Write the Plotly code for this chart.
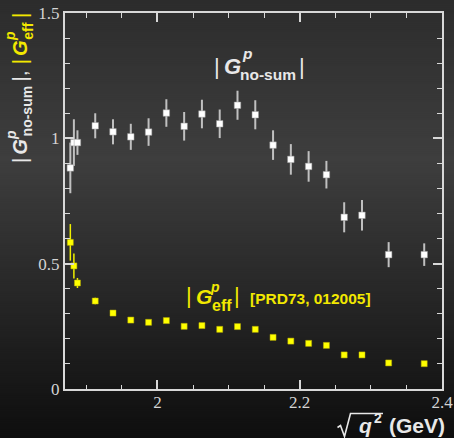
import plotly.graph_objects as go

# ---------------- data ----------------
sqrt_q2 = [1.8775, 1.8825, 1.8875, 1.9125, 1.9375, 1.9625, 1.9875, 2.0125, 2.0375, 2.0625,
           2.0875, 2.1125, 2.1375, 2.1625, 2.1875, 2.2125, 2.2375, 2.2625, 2.2875, 2.325, 2.375]
g_nosum = [0.882, 0.983, 0.983, 1.050, 1.026, 1.006, 1.025, 1.101, 1.048, 1.097,
           1.058, 1.132, 1.094, 0.973, 0.916, 0.888, 0.855, 0.685, 0.693, 0.536, 0.536]
g_nosum_err = [0.101, 0.093, 0.049, 0.050, 0.050, 0.052, 0.055, 0.055, 0.057, 0.057,
               0.057, 0.058, 0.058, 0.059, 0.061, 0.061, 0.055, 0.060, 0.061, 0.050, 0.045]
g_eff = [0.585, 0.491, 0.423, 0.351, 0.303, 0.275, 0.266, 0.273, 0.250, 0.253,
         0.238, 0.249, 0.238, 0.206, 0.191, 0.182, 0.174, 0.136, 0.136, 0.104, 0.101]
g_eff_err = [0.073, 0.050, 0.020, 0.013, 0.010, 0.009, 0.008, 0.008, 0.007, 0.007,
             0.006, 0.006, 0.006, 0.006, 0.005, 0.005, 0.005, 0.005, 0.005, 0.004, 0.004]
x_range = [1.87, 2.4]
y_range = [0, 1.5]

# ---------------- geometry helpers ----------------
W, H = 454, 438
ML, MR, MT, MB = 65, 12, 13, 49
PW, PH = W - ML - MR, H - MT - MB


def px(x):
    return (x - ML) / PW


def py(y):
    return (H - MB - y) / PH


WHITE = '#e8e8e8'
YEL = '#f2e800'
SANS = 'Liberation Sans'


def lab(text, x, y, size, color, angle=0):
    return dict(text=text, x=px(x), y=py(y), xref='paper', yref='paper', showarrow=False,
                xanchor='center', yanchor='middle', textangle=angle, borderpad=0,
                font=dict(size=size, color=color, family=SANS))


# ---------------- background gradient ----------------
stops = [(0, 44), (160, 62), (300, 38), (438, 14)]


def grey(y):
    for (a, va), (b, vb) in zip(stops[:-1], stops[1:]):
        if a <= y <= b:
            return round(va + (vb - va) * (y - a) / (b - a))
    return stops[-1][1]


shapes = []
for i in range(0, H, 2):
    v = grey(i + 1)
    shapes.append(dict(type='rect', xref='paper', yref='paper', x0=px(-2), x1=px(W + 2),
                       y0=py(i + 2.5), y1=py(i - 0.5), fillcolor=f'rgb({v},{v},{v})',
                       line=dict(width=0), layer='below'))

# radical sign for sqrt(q^2)
pts = [(337.5, 427.5), (340.5, 425.5), (344.5, 436.5), (350.5, 413.5), (383, 413.5)]
path = 'M ' + ' L '.join(f'{px(a):.5f},{py(b):.5f}' for a, b in pts)
shapes.append(dict(type='path', xref='paper', yref='paper', path=path,
                   line=dict(color=WHITE, width=1.6)))

# ---------------- figure ----------------
fig = go.Figure()
fig.add_trace(go.Scatter(
    x=sqrt_q2, y=g_nosum, mode='markers',
    marker=dict(symbol='square', size=6.5, color='white', line=dict(width=0.5, color='#999')),
    error_y=dict(type='data', array=g_nosum_err, color='#c0c0c0', thickness=2, width=0),
    showlegend=False))
fig.add_trace(go.Scatter(
    x=sqrt_q2, y=g_eff, mode='markers',
    marker=dict(symbol='square', size=6, color='#ffff00', line=dict(width=0.5, color='#bbb000')),
    error_y=dict(type='data', array=g_eff_err, color='#f0f000', thickness=1.5, width=0),
    showlegend=False))

annotations = [
    # in-plot white label |G^p_no-sum|
    lab('|', 217.3, 66.9, 22, WHITE),
    lab('<b><i>G</i></b>', 232.5, 66.9, 22, WHITE),
    lab('<b><i>p</i></b>', 246.5, 53.6, 15.5, WHITE),
    lab('<b>no-sum</b>', 268, 74.1, 15.5, WHITE),
    lab('|', 302, 66.9, 22, WHITE),
    # in-plot yellow label |G^p_eff| [PRD73, 012005]
    lab('|', 189.3, 295.9, 22, YEL),
    lab('<b><i>G</i></b>', 203.5, 296.2, 21, YEL),
    lab('<b><i>p</i></b>', 214.5, 287, 14, YEL),
    lab('<b>eff</b>', 222.4, 305.2, 16, YEL),
    lab('|', 237.3, 295.9, 22, YEL),
    lab('<b>[PRD73, 012005]</b>', 310.5, 298.3, 15.5, YEL),
    # y-axis title (rotated)
    lab('|', 20.1, 161, 20, WHITE, -90),
    lab('<b><i>G</i></b>', 20.1, 146.7, 20, WHITE, -90),
    lab('<b><i>p</i></b>', 10.2, 134.7, 14, WHITE, -90),
    lab('<b>no-sum</b>', 27.1, 111.3, 14, WHITE, -90),
    lab('|', 20.1, 79.4, 20, WHITE, -90),
    lab(',', 20.1, 73, 20, WHITE, -90),
    lab('|', 20.1, 62.2, 20, YEL, -90),
    lab('<b><i>G</i></b>', 20.1, 48, 20, YEL, -90),
    lab('<b><i>p</i></b>', 10.2, 35.9, 14, YEL, -90),
    lab('<b>eff</b>', 27.1, 31.6, 14, YEL, -90),
    lab('|', 20.1, 16, 20, YEL, -90),
    # x-axis title: sqrt(q^2) (GeV)
    lab('<b><i>q</i></b>', 365.5, 425.3, 21, WHITE),
    lab('<b>2</b>', 377.5, 417.5, 14, WHITE),
    lab('<b>(GeV)</b>', 416.5, 425.3, 21, WHITE),
]

axis_common = dict(showgrid=False, zeroline=False, showline=True, linecolor='#d8d8d8',
                   linewidth=2, mirror='ticks', ticks='inside', ticklen=9, tickwidth=1.5,
                   tickcolor='#d8d8d8', automargin=False,
                   tickfont=dict(family='Liberation Serif', size=17, color='#d4d4d4'))

fig.update_layout(
    width=W, height=H,
    margin=dict(l=ML, r=MR, t=MT, b=MB, pad=0, autoexpand=False),
    paper_bgcolor='rgb(30,30,30)', plot_bgcolor='rgba(0,0,0,0)',
    xaxis=dict(range=x_range, tick0=2, dtick=0.2, ticklabelstandoff=-3,
               minor=dict(ticks='inside', ticklen=4.5, tick0=2, dtick=0.05,
                          tickcolor='#d8d8d8', tickwidth=1.3),
               **axis_common),
    yaxis=dict(range=y_range, tick0=0, dtick=0.5,
               minor=dict(ticks='inside', ticklen=5, tick0=0, dtick=0.1,
                          tickcolor='#d8d8d8', tickwidth=1.3),
               **axis_common),
    shapes=shapes,
    annotations=annotations,
    showlegend=False,
)

fig.write_html('out.html')
